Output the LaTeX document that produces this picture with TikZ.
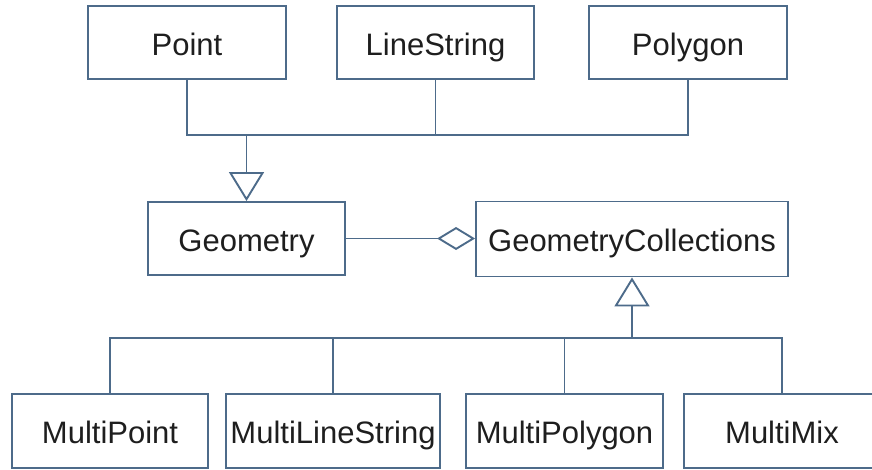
\documentclass[tikz,border=0pt]{standalone}
\usepackage{fontspec}
\setmainfont{Liberation Sans}
\usetikzlibrary{arrows.meta}

\definecolor{umlline}{RGB}{77,107,138}
\definecolor{umltext}{RGB}{30,30,30}

\begin{document}
\begin{tikzpicture}[x=1pt, y=-1pt,
  umlbox/.style={draw=umlline, line width=1.9pt, minimum height=73pt, inner sep=0pt,
    text height=28pt, text depth=3pt, text=umltext, font=\fontsize{31}{36}\selectfont},
  link/.style={draw=umlline, line width=1.9pt},
  inherit/.style={link, -{Triangle[open, length=29pt, width=35pt]}},
  aggregate/.style={link, -{Diamond[open, length=38pt, width=23pt]}}]
  \useasboundingbox (0,0) rectangle (872,469);

  \node[umlbox, minimum width=198pt] (point) at (187,42.5) {Point};
  \node[umlbox, minimum width=197pt] (lineString) at (435.5,42.5) {LineString};
  \node[umlbox, minimum width=198pt] (polygon) at (688,42.5) {Polygon};

  \node[umlbox, minimum width=197pt] (geometry) at (246.5,238.5) {Geometry};
  \node[umlbox, minimum width=312pt, minimum height=75pt] (collections) at (632,239) {GeometryCollections};

  \node[umlbox, minimum width=196pt, minimum height=74pt] (multiPoint) at (110,431) {MultiPoint};
  \node[umlbox, minimum width=214pt, minimum height=74pt] (multiLineString) at (333,431) {MultiLineString};
  \node[umlbox, minimum width=197pt, minimum height=74pt] (multiPolygon) at (564.5,431) {MultiPolygon};
  \node[umlbox, minimum width=196pt, minimum height=74pt] (multiMix) at (782,431) {MultiMix};

  \coordinate (upJoin) at (246.5,135);
  \coordinate (downJoin) at (632,338);

  \foreach \n in {point, lineString, polygon}
    \draw[link] (\n.south) |- (upJoin);
  \draw[inherit] (upJoin) -- (geometry.north);

  \draw[aggregate] (geometry.east) -- (geometry.east -| collections.west);

  \foreach \n in {multiPoint, multiLineString, multiPolygon, multiMix}
    \draw[link] (\n.north) |- (downJoin);
  \draw[inherit] (downJoin) -- (collections.south);
\end{tikzpicture}
\end{document}
